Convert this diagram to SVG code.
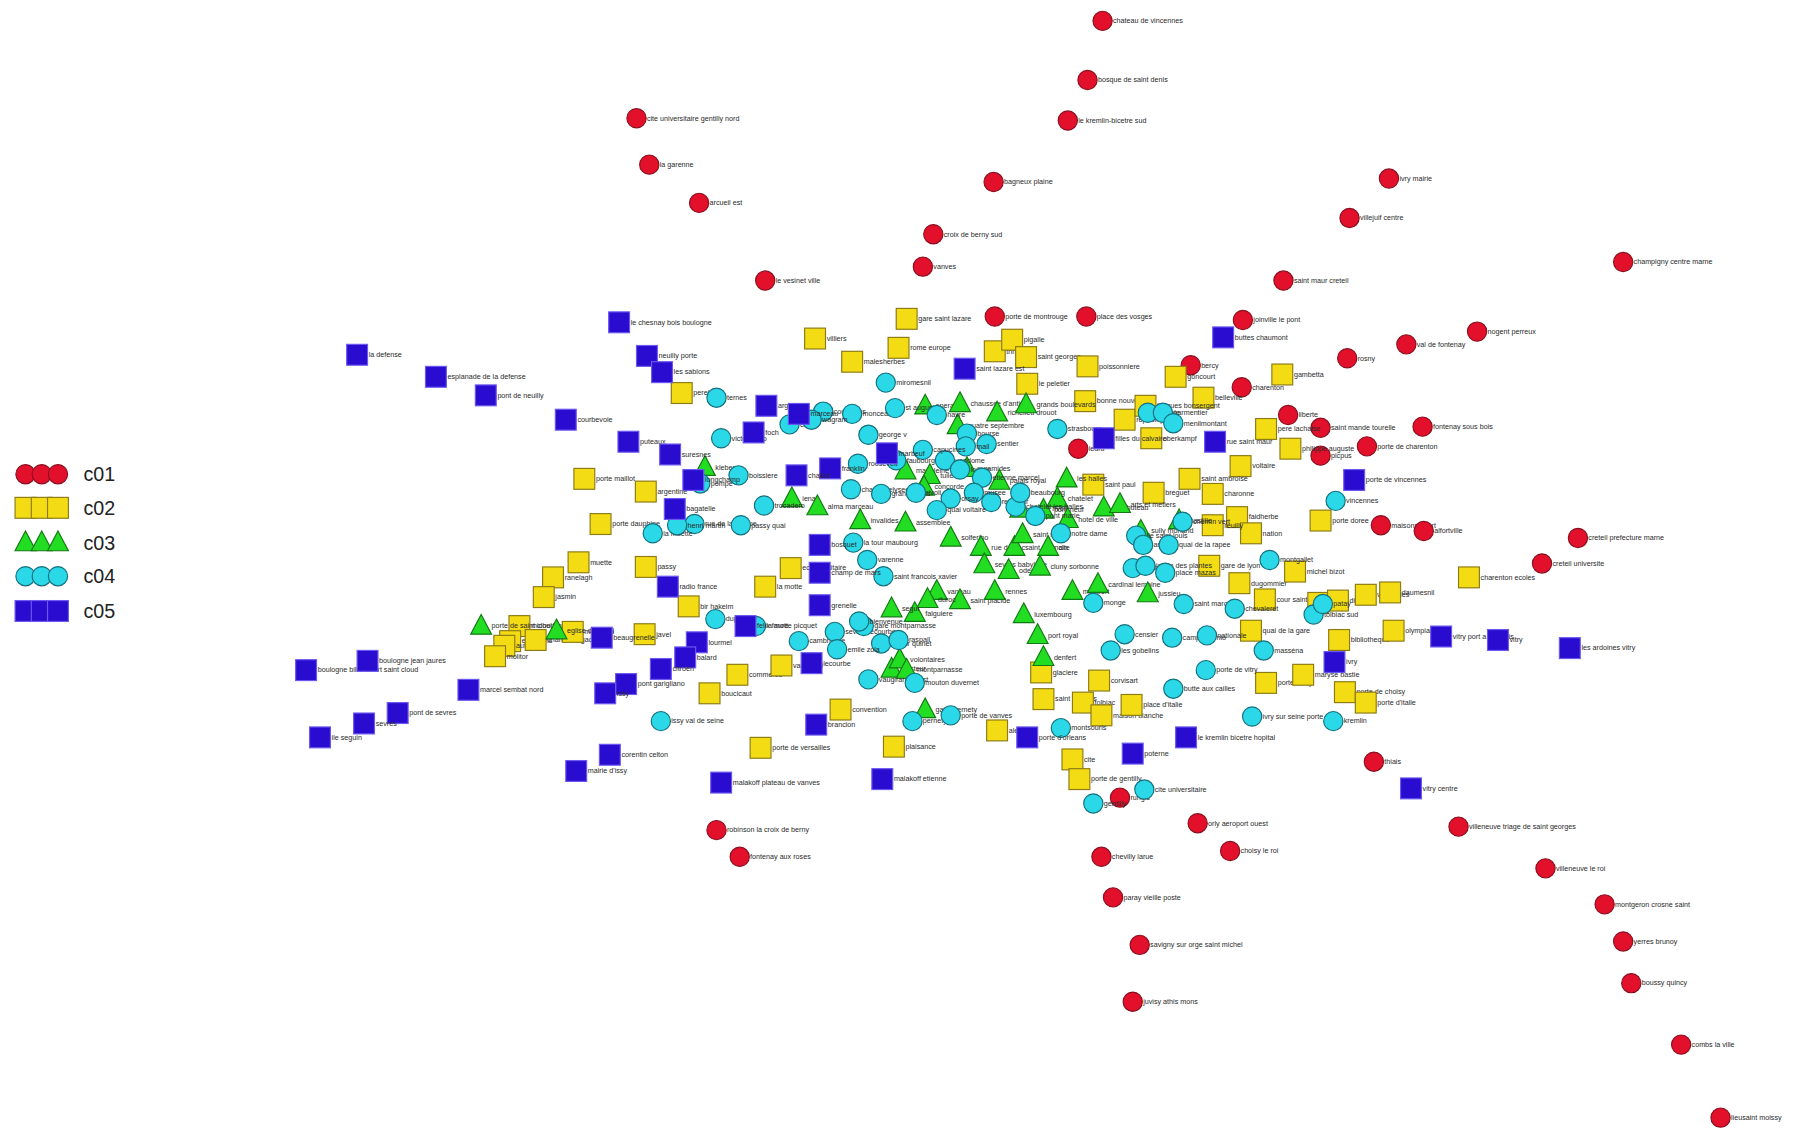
<svg xmlns="http://www.w3.org/2000/svg" xmlns:xlink="http://www.w3.org/1999/xlink" width="1818" height="1131" viewBox="0 0 1818 1131">
<style>
text{font-family:"Liberation Sans",Arial,sans-serif;font-size:6.2px;fill:#2a2a2a}
.lg{font-size:17px;fill:#222}
</style>
<defs>
<circle id="s1" r="8.3" fill="#e3102c" stroke="#8a1020" stroke-width="1"/>
<rect id="s2" x="-9" y="-9" width="18" height="18" fill="#f4dc14" stroke="#8c7a14" stroke-width="1"/>
<polygon id="s3" points="0,-10 9,7 -9,7" fill="#22dd22" stroke="#127a12" stroke-width="1"/>
<circle id="s4" r="8.3" fill="#2ad8e8" stroke="#14707e" stroke-width="1"/>
<rect id="s5" x="-9" y="-9" width="18" height="18" fill="#2a0cd0" stroke="#6a58f0" stroke-width="1"/>
</defs>
<rect width="1818" height="1131" fill="#ffffff"/>
<g transform="scale(1.1594)">
<g id="connectors"/>
<g id="legend">
<g id="leg1" transform="translate(0,409)"><use xlink:href="#s1" x="22"/><use xlink:href="#s1" x="36"/><use xlink:href="#s1" x="50"/><text class="lg" x="72" y="6">c01</text></g>
<g id="leg2" transform="translate(0,438)"><use xlink:href="#s2" x="22"/><use xlink:href="#s2" x="36"/><use xlink:href="#s2" x="50"/><text class="lg" x="72" y="6">c02</text></g>
<g id="leg3" transform="translate(0,468)"><use xlink:href="#s3" x="22"/><use xlink:href="#s3" x="36"/><use xlink:href="#s3" x="50"/><text class="lg" x="72" y="6">c03</text></g>
<g id="leg4" transform="translate(0,497)"><use xlink:href="#s4" x="22"/><use xlink:href="#s4" x="36"/><use xlink:href="#s4" x="50"/><text class="lg" x="72" y="6">c04</text></g>
<g id="leg5" transform="translate(0,527)"><use xlink:href="#s5" x="22"/><use xlink:href="#s5" x="36"/><use xlink:href="#s5" x="50"/><text class="lg" x="72" y="6">c05</text></g>
</g>
<g id="nodes-c01">
<g id="r1" transform="translate(951,18)"><use xlink:href="#s1"/><text x="9" y="2">chateau de vincennes</text></g>
<g id="r2" transform="translate(938,69)"><use xlink:href="#s1"/><text x="9" y="2">bosque de saint denis</text></g>
<g id="r3" transform="translate(921,104)"><use xlink:href="#s1"/><text x="9" y="2">le kremlin-bicetre sud</text></g>
<g id="r4" transform="translate(549,102)"><use xlink:href="#s1"/><text x="9" y="2">cite universitaire gentilly nord</text></g>
<g id="r5" transform="translate(560,142)"><use xlink:href="#s1"/><text x="9" y="2">la garenne</text></g>
<g id="r6" transform="translate(603,175)"><use xlink:href="#s1"/><text x="9" y="2">arcueil est</text></g>
<g id="r7" transform="translate(857,157)"><use xlink:href="#s1"/><text x="9" y="2">bagneux plaine</text></g>
<g id="r8" transform="translate(805,202)"><use xlink:href="#s1"/><text x="9" y="2">croix de berny sud</text></g>
<g id="r9" transform="translate(796,230)"><use xlink:href="#s1"/><text x="9" y="2">vanves</text></g>
<g id="r10" transform="translate(660,242)"><use xlink:href="#s1"/><text x="9" y="2">le vesinet ville</text></g>
<g id="r11" transform="translate(1198,154)"><use xlink:href="#s1"/><text x="9" y="2">ivry mairie</text></g>
<g id="r12" transform="translate(1164,188)"><use xlink:href="#s1"/><text x="9" y="2">villejuif centre</text></g>
<g id="r13" transform="translate(1400,226)"><use xlink:href="#s1"/><text x="9" y="2">champigny centre marne</text></g>
<g id="r14" transform="translate(1107,242)"><use xlink:href="#s1"/><text x="9" y="2">saint maur creteil</text></g>
<g id="r15" transform="translate(858,273)"><use xlink:href="#s1"/><text x="9" y="2">porte de montrouge</text></g>
<g id="r16" transform="translate(937,273)"><use xlink:href="#s1"/><text x="9" y="2">place des vosges</text></g>
<g id="r17" transform="translate(1072,276)"><use xlink:href="#s1"/><text x="9" y="2">joinville le pont</text></g>
<g id="r18" transform="translate(1274,286)"><use xlink:href="#s1"/><text x="9" y="2">nogent perreux</text></g>
<g id="r19" transform="translate(1213,297)"><use xlink:href="#s1"/><text x="9" y="2">val de fontenay</text></g>
<g id="r20" transform="translate(1162,309)"><use xlink:href="#s1"/><text x="9" y="2">rosny</text></g>
<g id="r21" transform="translate(1027,315)"><use xlink:href="#s1"/><text x="9" y="2">bercy</text></g>
<g id="r22" transform="translate(1071,334)"><use xlink:href="#s1"/><text x="9" y="2">charenton</text></g>
<g id="r23" transform="translate(1111,358)"><use xlink:href="#s1"/><text x="9" y="2">liberte</text></g>
<g id="r24" transform="translate(1139,369)"><use xlink:href="#s1"/><text x="9" y="2">saint mande tourelle</text></g>
<g id="r25" transform="translate(1227,368)"><use xlink:href="#s1"/><text x="9" y="2">fontenay sous bois</text></g>
<g id="r26" transform="translate(1179,385)"><use xlink:href="#s1"/><text x="9" y="2">porte de charenton</text></g>
<g id="r27" transform="translate(1139,393)"><use xlink:href="#s1"/><text x="9" y="2">picpus</text></g>
<g id="r28" transform="translate(930,387)"><use xlink:href="#s1"/><text x="9" y="2">ledru</text></g>
<g id="r29" transform="translate(1191,453)"><use xlink:href="#s1"/><text x="9" y="2">maisons alfort</text></g>
<g id="r30" transform="translate(1228,458)"><use xlink:href="#s1"/><text x="9" y="2">alfortville</text></g>
<g id="r31" transform="translate(1361,464)"><use xlink:href="#s1"/><text x="9" y="2">creteil prefecture marne</text></g>
<g id="r32" transform="translate(1330,486)"><use xlink:href="#s1"/><text x="9" y="2">creteil universite</text></g>
<g id="r33" transform="translate(1185,657)"><use xlink:href="#s1"/><text x="9" y="2">thiais</text></g>
<g id="r34" transform="translate(1258,713)"><use xlink:href="#s1"/><text x="9" y="2">villeneuve triage de saint georges</text></g>
<g id="r35" transform="translate(966,688)"><use xlink:href="#s1"/><text x="9" y="2">rungis</text></g>
<g id="r36" transform="translate(1033,710)"><use xlink:href="#s1"/><text x="9" y="2">orly aeroport ouest</text></g>
<g id="r37" transform="translate(1061,734)"><use xlink:href="#s1"/><text x="9" y="2">choisy le roi</text></g>
<g id="r38" transform="translate(950,739)"><use xlink:href="#s1"/><text x="9" y="2">chevilly larue</text></g>
<g id="r39" transform="translate(618,716)"><use xlink:href="#s1"/><text x="9" y="2">robinson la croix de berny</text></g>
<g id="r40" transform="translate(638,739)"><use xlink:href="#s1"/><text x="9" y="2">fontenay aux roses</text></g>
<g id="r41" transform="translate(960,774)"><use xlink:href="#s1"/><text x="9" y="2">paray vieille poste</text></g>
<g id="r42" transform="translate(983,815)"><use xlink:href="#s1"/><text x="9" y="2">savigny sur orge saint michel</text></g>
<g id="r43" transform="translate(977,864)"><use xlink:href="#s1"/><text x="9" y="2">juvisy athis mons</text></g>
<g id="r44" transform="translate(1333,749)"><use xlink:href="#s1"/><text x="9" y="2">villeneuve le roi</text></g>
<g id="r45" transform="translate(1384,780)"><use xlink:href="#s1"/><text x="9" y="2">montgeron crosne saint</text></g>
<g id="r46" transform="translate(1400,812)"><use xlink:href="#s1"/><text x="9" y="2">yerres brunoy</text></g>
<g id="r47" transform="translate(1407,848)"><use xlink:href="#s1"/><text x="9" y="2">boussy quincy</text></g>
<g id="r48" transform="translate(1450,901)"><use xlink:href="#s1"/><text x="9" y="2">combs la ville</text></g>
<g id="r49" transform="translate(1484,964)"><use xlink:href="#s1"/><text x="9" y="2">lieusaint moissy</text></g>
</g>
<g id="nodes-c02">
<g id="y1" transform="translate(782,275)"><use xlink:href="#s2"/><text x="10" y="2">gare saint lazare</text></g>
<g id="y2" transform="translate(703,292)"><use xlink:href="#s2"/><text x="10" y="2">villiers</text></g>
<g id="y3" transform="translate(775,300)"><use xlink:href="#s2"/><text x="10" y="2">rome europe</text></g>
<g id="y4" transform="translate(735,312)"><use xlink:href="#s2"/><text x="10" y="2">malesherbes</text></g>
<g id="y5" transform="translate(858,303)"><use xlink:href="#s2"/><text x="10" y="2">trinite</text></g>
<g id="y6" transform="translate(873,293)"><use xlink:href="#s2"/><text x="10" y="2">pigalle</text></g>
<g id="y7" transform="translate(885,308)"><use xlink:href="#s2"/><text x="10" y="2">saint georges</text></g>
<g id="y8" transform="translate(938,316)"><use xlink:href="#s2"/><text x="10" y="2">poissonniere</text></g>
<g id="y9" transform="translate(886,331)"><use xlink:href="#s2"/><text x="10" y="2">le peletier</text></g>
<g id="y10" transform="translate(1014,325)"><use xlink:href="#s2"/><text x="10" y="2">goncourt</text></g>
<g id="y11" transform="translate(1038,343)"><use xlink:href="#s2"/><text x="10" y="2">belleville</text></g>
<g id="y12" transform="translate(1106,323)"><use xlink:href="#s2"/><text x="10" y="2">gambetta</text></g>
<g id="y13" transform="translate(588,339)"><use xlink:href="#s2"/><text x="10" y="2">pereire</text></g>
<g id="y14" transform="translate(936,346)"><use xlink:href="#s2"/><text x="10" y="2">bonne nouvelle</text></g>
<g id="y15" transform="translate(970,362)"><use xlink:href="#s2"/><text x="10" y="2">republique</text></g>
<g id="y16" transform="translate(988,350)"><use xlink:href="#s2"/><text x="10" y="2">jacques bonsergent</text></g>
<g id="y17" transform="translate(1092,370)"><use xlink:href="#s2"/><text x="10" y="2">pere lachaise</text></g>
<g id="y18" transform="translate(1113,387)"><use xlink:href="#s2"/><text x="10" y="2">philippe auguste</text></g>
<g id="y19" transform="translate(1070,402)"><use xlink:href="#s2"/><text x="10" y="2">voltaire</text></g>
<g id="y20" transform="translate(993,378)"><use xlink:href="#s2"/><text x="10" y="2">oberkampf</text></g>
<g id="y21" transform="translate(1026,413)"><use xlink:href="#s2"/><text x="10" y="2">saint ambroise</text></g>
<g id="y22" transform="translate(1046,426)"><use xlink:href="#s2"/><text x="10" y="2">charonne</text></g>
<g id="y23" transform="translate(995,425)"><use xlink:href="#s2"/><text x="10" y="2">breguet</text></g>
<g id="y24" transform="translate(943,418)"><use xlink:href="#s2"/><text x="10" y="2">saint paul</text></g>
<g id="y25" transform="translate(504,413)"><use xlink:href="#s2"/><text x="10" y="2">porte maillot</text></g>
<g id="y26" transform="translate(557,424)"><use xlink:href="#s2"/><text x="10" y="2">argentine</text></g>
<g id="y27" transform="translate(518,452)"><use xlink:href="#s2"/><text x="10" y="2">porte dauphine</text></g>
<g id="y28" transform="translate(1067,446)"><use xlink:href="#s2"/><text x="10" y="2">faidherbe</text></g>
<g id="y29" transform="translate(1079,460)"><use xlink:href="#s2"/><text x="10" y="2">nation</text></g>
<g id="y30" transform="translate(1046,453)"><use xlink:href="#s2"/><text x="10" y="2">reuilly</text></g>
<g id="y31" transform="translate(1139,449)"><use xlink:href="#s2"/><text x="10" y="2">porte doree</text></g>
<g id="y32" transform="translate(1043,488)"><use xlink:href="#s2"/><text x="10" y="2">gare de lyon</text></g>
<g id="y33" transform="translate(1069,503)"><use xlink:href="#s2"/><text x="10" y="2">dugommier</text></g>
<g id="y34" transform="translate(1117,493)"><use xlink:href="#s2"/><text x="10" y="2">michel bizot</text></g>
<g id="y35" transform="translate(1091,517)"><use xlink:href="#s2"/><text x="10" y="2">cour saint emilion</text></g>
<g id="y36" transform="translate(1137,520)"><use xlink:href="#s2"/><text x="10" y="2">bercy</text></g>
<g id="y37" transform="translate(1154,518)"><use xlink:href="#s2"/><text x="10" y="2">dijon</text></g>
<g id="y38" transform="translate(1178,513)"><use xlink:href="#s2"/><text x="10" y="2">wattignies</text></g>
<g id="y39" transform="translate(1199,511)"><use xlink:href="#s2"/><text x="10" y="2">daumesnil</text></g>
<g id="y40" transform="translate(1267,498)"><use xlink:href="#s2"/><text x="10" y="2">charenton ecoles</text></g>
<g id="y41" transform="translate(499,485)"><use xlink:href="#s2"/><text x="10" y="2">muette</text></g>
<g id="y42" transform="translate(477,498)"><use xlink:href="#s2"/><text x="10" y="2">ranelagh</text></g>
<g id="y43" transform="translate(469,515)"><use xlink:href="#s2"/><text x="10" y="2">jasmin</text></g>
<g id="y44" transform="translate(557,489)"><use xlink:href="#s2"/><text x="10" y="2">passy</text></g>
<g id="y45" transform="translate(594,523)"><use xlink:href="#s2"/><text x="10" y="2">bir hakeim</text></g>
<g id="y46" transform="translate(682,490)"><use xlink:href="#s2"/><text x="10" y="2">ecole militaire</text></g>
<g id="y47" transform="translate(660,506)"><use xlink:href="#s2"/><text x="10" y="2">la motte</text></g>
<g id="y48" transform="translate(556,547)"><use xlink:href="#s2"/><text x="10" y="2">javel</text></g>
<g id="y49" transform="translate(448,540)"><use xlink:href="#s2"/><text x="10" y="2">michel ange</text></g>
<g id="y50" transform="translate(440,553)"><use xlink:href="#s2"/><text x="10" y="2">exelmans</text></g>
<g id="y51" transform="translate(435,557)"><use xlink:href="#s2"/><text x="10" y="2">auteuil</text></g>
<g id="y52" transform="translate(427,566)"><use xlink:href="#s2"/><text x="10" y="2">molitor</text></g>
<g id="y53" transform="translate(462,552)"><use xlink:href="#s2"/><text x="10" y="2">chardon lagache</text></g>
<g id="y54" transform="translate(494,545)"><use xlink:href="#s2"/><text x="10" y="2">mirabeau</text></g>
<g id="y55" transform="translate(1079,544)"><use xlink:href="#s2"/><text x="10" y="2">quai de la gare</text></g>
<g id="y56" transform="translate(1155,552)"><use xlink:href="#s2"/><text x="10" y="2">bibliotheque</text></g>
<g id="y57" transform="translate(1202,544)"><use xlink:href="#s2"/><text x="10" y="2">olympiades</text></g>
<g id="y58" transform="translate(636,582)"><use xlink:href="#s2"/><text x="10" y="2">commerce</text></g>
<g id="y59" transform="translate(612,598)"><use xlink:href="#s2"/><text x="10" y="2">boucicaut</text></g>
<g id="y60" transform="translate(674,574)"><use xlink:href="#s2"/><text x="10" y="2">vaugirard</text></g>
<g id="y61" transform="translate(725,612)"><use xlink:href="#s2"/><text x="10" y="2">convention</text></g>
<g id="y62" transform="translate(656,645)"><use xlink:href="#s2"/><text x="10" y="2">porte de versailles</text></g>
<g id="y63" transform="translate(771,644)"><use xlink:href="#s2"/><text x="10" y="2">plaisance</text></g>
<g id="y64" transform="translate(898,580)"><use xlink:href="#s2"/><text x="10" y="2">glaciere</text></g>
<g id="y65" transform="translate(948,587)"><use xlink:href="#s2"/><text x="10" y="2">corvisart</text></g>
<g id="y66" transform="translate(900,603)"><use xlink:href="#s2"/><text x="10" y="2">saint jacques</text></g>
<g id="y67" transform="translate(934,606)"><use xlink:href="#s2"/><text x="10" y="2">tolbiac</text></g>
<g id="y68" transform="translate(950,617)"><use xlink:href="#s2"/><text x="10" y="2">maison blanche</text></g>
<g id="y69" transform="translate(976,608)"><use xlink:href="#s2"/><text x="10" y="2">place d'italie</text></g>
<g id="y70" transform="translate(860,630)"><use xlink:href="#s2"/><text x="10" y="2">alesia</text></g>
<g id="y71" transform="translate(1092,589)"><use xlink:href="#s2"/><text x="10" y="2">porte d'ivry</text></g>
<g id="y72" transform="translate(1124,582)"><use xlink:href="#s2"/><text x="10" y="2">maryse bastie</text></g>
<g id="y73" transform="translate(1160,597)"><use xlink:href="#s2"/><text x="10" y="2">porte de choisy</text></g>
<g id="y74" transform="translate(1178,606)"><use xlink:href="#s2"/><text x="10" y="2">porte d'italie</text></g>
<g id="y75" transform="translate(925,655)"><use xlink:href="#s2"/><text x="10" y="2">cite</text></g>
<g id="y76" transform="translate(931,672)"><use xlink:href="#s2"/><text x="10" y="2">porte de gentilly</text></g>
</g>
<g id="nodes-c03">
<g id="g1" transform="translate(798,350)"><use xlink:href="#s3"/><text x="9" y="2">opera</text></g>
<g id="g2" transform="translate(828,348)"><use xlink:href="#s3"/><text x="9" y="2">chaussee d'antin</text></g>
<g id="g3" transform="translate(860,356)"><use xlink:href="#s3"/><text x="9" y="2">richelieu drouot</text></g>
<g id="g4" transform="translate(885,349)"><use xlink:href="#s3"/><text x="9" y="2">grands boulevards</text></g>
<g id="g5" transform="translate(826,367)"><use xlink:href="#s3"/><text x="9" y="2">quatre septembre</text></g>
<g id="g6" transform="translate(608,403)"><use xlink:href="#s3"/><text x="9" y="2">kleber</text></g>
<g id="g7" transform="translate(683,430)"><use xlink:href="#s3"/><text x="9" y="2">iena</text></g>
<g id="g8" transform="translate(705,437)"><use xlink:href="#s3"/><text x="9" y="2">alma marceau</text></g>
<g id="g9" transform="translate(781,406)"><use xlink:href="#s3"/><text x="9" y="2">madeleine</text></g>
<g id="g10" transform="translate(802,410)"><use xlink:href="#s3"/><text x="9" y="2">tuileries</text></g>
<g id="g11" transform="translate(834,404)"><use xlink:href="#s3"/><text x="9" y="2">pyramides</text></g>
<g id="g12" transform="translate(742,449)"><use xlink:href="#s3"/><text x="9" y="2">invalides</text></g>
<g id="g13" transform="translate(781,451)"><use xlink:href="#s3"/><text x="9" y="2">assemblee</text></g>
<g id="g14" transform="translate(797,420)"><use xlink:href="#s3"/><text x="9" y="2">concorde</text></g>
<g id="g15" transform="translate(862,415)"><use xlink:href="#s3"/><text x="9" y="2">palais royal</text></g>
<g id="g16" transform="translate(880,439)"><use xlink:href="#s3"/><text x="9" y="2">louvre rivoli</text></g>
<g id="g17" transform="translate(900,440)"><use xlink:href="#s3"/><text x="9" y="2">pont neuf</text></g>
<g id="g18" transform="translate(920,413)"><use xlink:href="#s3"/><text x="9" y="2">les halles</text></g>
<g id="g19" transform="translate(912,430)"><use xlink:href="#s3"/><text x="9" y="2">chatelet</text></g>
<g id="g20" transform="translate(921,448)"><use xlink:href="#s3"/><text x="9" y="2">hotel de ville</text></g>
<g id="g21" transform="translate(952,438)"><use xlink:href="#s3"/><text x="9" y="2">rambuteau</text></g>
<g id="g22" transform="translate(966,435)"><use xlink:href="#s3"/><text x="9" y="2">arts et metiers</text></g>
<g id="g23" transform="translate(984,458)"><use xlink:href="#s3"/><text x="9" y="2">sully morland</text></g>
<g id="g24" transform="translate(1017,449)"><use xlink:href="#s3"/><text x="9" y="2">bastille</text></g>
<g id="g25" transform="translate(820,464)"><use xlink:href="#s3"/><text x="9" y="2">solferino</text></g>
<g id="g26" transform="translate(846,472)"><use xlink:href="#s3"/><text x="9" y="2">rue du bac</text></g>
<g id="g27" transform="translate(849,487)"><use xlink:href="#s3"/><text x="9" y="2">sevres babylone</text></g>
<g id="g28" transform="translate(875,472)"><use xlink:href="#s3"/><text x="9" y="2">saint germain</text></g>
<g id="g29" transform="translate(882,461)"><use xlink:href="#s3"/><text x="9" y="2">saint michel</text></g>
<g id="g30" transform="translate(904,472)"><use xlink:href="#s3"/><text x="9" y="2">cite</text></g>
<g id="g31" transform="translate(870,492)"><use xlink:href="#s3"/><text x="9" y="2">odeon</text></g>
<g id="g32" transform="translate(897,489)"><use xlink:href="#s3"/><text x="9" y="2">cluny sorbonne</text></g>
<g id="g33" transform="translate(808,510)"><use xlink:href="#s3"/><text x="9" y="2">vaneau</text></g>
<g id="g34" transform="translate(828,518)"><use xlink:href="#s3"/><text x="9" y="2">saint placide</text></g>
<g id="g35" transform="translate(800,517)"><use xlink:href="#s3"/><text x="9" y="2">duroc</text></g>
<g id="g36" transform="translate(789,529)"><use xlink:href="#s3"/><text x="9" y="2">falguiere</text></g>
<g id="g37" transform="translate(769,525)"><use xlink:href="#s3"/><text x="9" y="2">segur</text></g>
<g id="g38" transform="translate(858,510)"><use xlink:href="#s3"/><text x="9" y="2">rennes</text></g>
<g id="g39" transform="translate(883,530)"><use xlink:href="#s3"/><text x="9" y="2">luxembourg</text></g>
<g id="g40" transform="translate(925,510)"><use xlink:href="#s3"/><text x="9" y="2">maubert</text></g>
<g id="g41" transform="translate(947,504)"><use xlink:href="#s3"/><text x="9" y="2">cardinal lemoine</text></g>
<g id="g42" transform="translate(990,512)"><use xlink:href="#s3"/><text x="9" y="2">jussieu</text></g>
<g id="g43" transform="translate(895,548)"><use xlink:href="#s3"/><text x="9" y="2">port royal</text></g>
<g id="g44" transform="translate(900,567)"><use xlink:href="#s3"/><text x="9" y="2">denfert</text></g>
<g id="g45" transform="translate(769,577)"><use xlink:href="#s3"/><text x="9" y="2">pasteur</text></g>
<g id="g46" transform="translate(776,569)"><use xlink:href="#s3"/><text x="9" y="2">volontaires</text></g>
<g id="g47" transform="translate(782,578)"><use xlink:href="#s3"/><text x="9" y="2">montparnasse</text></g>
<g id="g48" transform="translate(798,612)"><use xlink:href="#s3"/><text x="9" y="2">gaite pernety</text></g>
<g id="g49" transform="translate(415,540)"><use xlink:href="#s3"/><text x="9" y="2">porte de saint cloud</text></g>
<g id="g50" transform="translate(480,544)"><use xlink:href="#s3"/><text x="9" y="2">eglise d'auteuil</text></g>
</g>
<g id="nodes-c04">
<g id="c1" transform="translate(764,330)"><use xlink:href="#s4"/><text x="9" y="2">miromesnil</text></g>
<g id="c2" transform="translate(618,343)"><use xlink:href="#s4"/><text x="9" y="2">ternes</text></g>
<g id="c3" transform="translate(710,355)"><use xlink:href="#s4"/><text x="9" y="2">courcelles</text></g>
<g id="c4" transform="translate(735,357)"><use xlink:href="#s4"/><text x="9" y="2">monceau</text></g>
<g id="c5" transform="translate(772,352)"><use xlink:href="#s4"/><text x="9" y="2">st augustin</text></g>
<g id="c6" transform="translate(808,358)"><use xlink:href="#s4"/><text x="9" y="2">havre</text></g>
<g id="c7" transform="translate(681,366)"><use xlink:href="#s4"/><text x="9" y="2">etoile</text></g>
<g id="c8" transform="translate(700,362)"><use xlink:href="#s4"/><text x="9" y="2">wagram</text></g>
<g id="c9" transform="translate(749,375)"><use xlink:href="#s4"/><text x="9" y="2">george v</text></g>
<g id="c10" transform="translate(834,374)"><use xlink:href="#s4"/><text x="9" y="2">bourse</text></g>
<g id="c11" transform="translate(851,383)"><use xlink:href="#s4"/><text x="9" y="2">sentier</text></g>
<g id="c12" transform="translate(833,385)"><use xlink:href="#s4"/><text x="9" y="2">mail</text></g>
<g id="c13" transform="translate(815,397)"><use xlink:href="#s4"/><text x="9" y="2">vendome</text></g>
<g id="c14" transform="translate(796,388)"><use xlink:href="#s4"/><text x="9" y="2">capucines</text></g>
<g id="c15" transform="translate(773,397)"><use xlink:href="#s4"/><text x="9" y="2">faubourg</text></g>
<g id="c16" transform="translate(740,400)"><use xlink:href="#s4"/><text x="9" y="2">roosevelt</text></g>
<g id="c17" transform="translate(912,370)"><use xlink:href="#s4"/><text x="9" y="2">strasbourg</text></g>
<g id="c18" transform="translate(990,356)"><use xlink:href="#s4"/><text x="9" y="2">temple</text></g>
<g id="c19" transform="translate(1003,356)"><use xlink:href="#s4"/><text x="9" y="2">parmentier</text></g>
<g id="c20" transform="translate(1012,365)"><use xlink:href="#s4"/><text x="9" y="2">menilmontant</text></g>
<g id="c21" transform="translate(622,378)"><use xlink:href="#s4"/><text x="9" y="2">victor hugo</text></g>
<g id="c22" transform="translate(637,410)"><use xlink:href="#s4"/><text x="9" y="2">boissiere</text></g>
<g id="c23" transform="translate(604,417)"><use xlink:href="#s4"/><text x="9" y="2">pompe</text></g>
<g id="c24" transform="translate(659,436)"><use xlink:href="#s4"/><text x="9" y="2">trocadero</text></g>
<g id="c25" transform="translate(599,452)"><use xlink:href="#s4"/><text x="9" y="2">rue de la pompe</text></g>
<g id="c26" transform="translate(563,460)"><use xlink:href="#s4"/><text x="9" y="2">la muette</text></g>
<g id="c27" transform="translate(584,453)"><use xlink:href="#s4"/><text x="9" y="2">henri martin</text></g>
<g id="c28" transform="translate(639,453)"><use xlink:href="#s4"/><text x="9" y="2">passy quai</text></g>
<g id="c29" transform="translate(734,422)"><use xlink:href="#s4"/><text x="9" y="2">champs elysees</text></g>
<g id="c30" transform="translate(760,426)"><use xlink:href="#s4"/><text x="9" y="2">grand palais</text></g>
<g id="c31" transform="translate(790,425)"><use xlink:href="#s4"/><text x="9" y="2">rivoli</text></g>
<g id="c32" transform="translate(828,405)"><use xlink:href="#s4"/><text x="9" y="2">louvre</text></g>
<g id="c33" transform="translate(847,412)"><use xlink:href="#s4"/><text x="9" y="2">etienne marcel</text></g>
<g id="c34" transform="translate(855,433)"><use xlink:href="#s4"/><text x="9" y="2">reaumur</text></g>
<g id="c35" transform="translate(876,437)"><use xlink:href="#s4"/><text x="9" y="2">chatelet les halles</text></g>
<g id="c36" transform="translate(840,425)"><use xlink:href="#s4"/><text x="9" y="2">musee</text></g>
<g id="c37" transform="translate(820,430)"><use xlink:href="#s4"/><text x="9" y="2">orsay</text></g>
<g id="c38" transform="translate(808,440)"><use xlink:href="#s4"/><text x="9" y="2">quai voltaire</text></g>
<g id="c39" transform="translate(893,445)"><use xlink:href="#s4"/><text x="9" y="2">pont marie</text></g>
<g id="c40" transform="translate(915,460)"><use xlink:href="#s4"/><text x="9" y="2">notre dame</text></g>
<g id="c41" transform="translate(880,425)"><use xlink:href="#s4"/><text x="9" y="2">beaubourg</text></g>
<g id="c42" transform="translate(736,468)"><use xlink:href="#s4"/><text x="9" y="2">la tour maubourg</text></g>
<g id="c43" transform="translate(748,483)"><use xlink:href="#s4"/><text x="9" y="2">varenne</text></g>
<g id="c44" transform="translate(762,497)"><use xlink:href="#s4"/><text x="9" y="2">saint francois xavier</text></g>
<g id="c45" transform="translate(980,462)"><use xlink:href="#s4"/><text x="9" y="2">ile saint louis</text></g>
<g id="c46" transform="translate(986,470)"><use xlink:href="#s4"/><text x="9" y="2">arsenal</text></g>
<g id="c47" transform="translate(1008,470)"><use xlink:href="#s4"/><text x="9" y="2">quai de la rapee</text></g>
<g id="c48" transform="translate(1020,450)"><use xlink:href="#s4"/><text x="9" y="2">chemin vert</text></g>
<g id="c49" transform="translate(977,490)"><use xlink:href="#s4"/><text x="9" y="2">austerlitz</text></g>
<g id="c50" transform="translate(988,488)"><use xlink:href="#s4"/><text x="9" y="2">jardin des plantes</text></g>
<g id="c51" transform="translate(1005,494)"><use xlink:href="#s4"/><text x="9" y="2">place mazas</text></g>
<g id="c52" transform="translate(1095,483)"><use xlink:href="#s4"/><text x="9" y="2">montgallet</text></g>
<g id="c53" transform="translate(1021,521)"><use xlink:href="#s4"/><text x="9" y="2">saint marcel</text></g>
<g id="c54" transform="translate(1065,525)"><use xlink:href="#s4"/><text x="9" y="2">chevaleret</text></g>
<g id="c55" transform="translate(1133,530)"><use xlink:href="#s4"/><text x="9" y="2">tolbiac sud</text></g>
<g id="c56" transform="translate(1141,521)"><use xlink:href="#s4"/><text x="9" y="2">patay</text></g>
<g id="c57" transform="translate(1152,432)"><use xlink:href="#s4"/><text x="9" y="2">vincennes</text></g>
<g id="c58" transform="translate(943,520)"><use xlink:href="#s4"/><text x="9" y="2">monge</text></g>
<g id="c59" transform="translate(970,547)"><use xlink:href="#s4"/><text x="9" y="2">censier</text></g>
<g id="c60" transform="translate(958,561)"><use xlink:href="#s4"/><text x="9" y="2">les gobelins</text></g>
<g id="c61" transform="translate(1011,550)"><use xlink:href="#s4"/><text x="9" y="2">campo formio</text></g>
<g id="c62" transform="translate(1041,548)"><use xlink:href="#s4"/><text x="9" y="2">nationale</text></g>
<g id="c63" transform="translate(1090,561)"><use xlink:href="#s4"/><text x="9" y="2">masséna</text></g>
<g id="c64" transform="translate(1040,578)"><use xlink:href="#s4"/><text x="9" y="2">porte de vitry</text></g>
<g id="c65" transform="translate(1012,594)"><use xlink:href="#s4"/><text x="9" y="2">butte aux cailles</text></g>
<g id="c66" transform="translate(689,553)"><use xlink:href="#s4"/><text x="9" y="2">cambronne</text></g>
<g id="c67" transform="translate(720,545)"><use xlink:href="#s4"/><text x="9" y="2">sevres lecourbe</text></g>
<g id="c68" transform="translate(745,540)"><use xlink:href="#s4"/><text x="9" y="2">gare montparnasse</text></g>
<g id="c69" transform="translate(760,555)"><use xlink:href="#s4"/><text x="9" y="2">edgar quinet</text></g>
<g id="c70" transform="translate(775,552)"><use xlink:href="#s4"/><text x="9" y="2">raspail</text></g>
<g id="c71" transform="translate(722,560)"><use xlink:href="#s4"/><text x="9" y="2">emile zola</text></g>
<g id="c72" transform="translate(749,586)"><use xlink:href="#s4"/><text x="9" y="2">vaugirard ouest</text></g>
<g id="c73" transform="translate(789,589)"><use xlink:href="#s4"/><text x="9" y="2">mouton duvernet</text></g>
<g id="c74" transform="translate(787,622)"><use xlink:href="#s4"/><text x="9" y="2">pernety</text></g>
<g id="c75" transform="translate(820,617)"><use xlink:href="#s4"/><text x="9" y="2">porte de vanves</text></g>
<g id="c76" transform="translate(570,622)"><use xlink:href="#s4"/><text x="9" y="2">issy val de seine</text></g>
<g id="c77" transform="translate(915,628)"><use xlink:href="#s4"/><text x="9" y="2">montsouris</text></g>
<g id="c78" transform="translate(1080,618)"><use xlink:href="#s4"/><text x="9" y="2">ivry sur seine porte</text></g>
<g id="c79" transform="translate(1150,622)"><use xlink:href="#s4"/><text x="9" y="2">kremlin</text></g>
<g id="c80" transform="translate(943,693)"><use xlink:href="#s4"/><text x="9" y="2">gentilly</text></g>
<g id="c81" transform="translate(987,681)"><use xlink:href="#s4"/><text x="9" y="2">cite universitaire</text></g>
<g id="c82" transform="translate(741,536)"><use xlink:href="#s4"/><text x="9" y="2">bienvenue</text></g>
<g id="c83" transform="translate(617,534)"><use xlink:href="#s4"/><text x="9" y="2">dupleix</text></g>
<g id="c84" transform="translate(652,540)"><use xlink:href="#s4"/><text x="9" y="2">la motte picquet</text></g>
</g>
<g id="nodes-c05">
<g id="b1" transform="translate(534,278)"><use xlink:href="#s5"/><text x="10" y="2">le chesnay bois boulogne</text></g>
<g id="b2" transform="translate(308,306)"><use xlink:href="#s5"/><text x="10" y="2">la defense</text></g>
<g id="b3" transform="translate(558,307)"><use xlink:href="#s5"/><text x="10" y="2">neuilly porte</text></g>
<g id="b4" transform="translate(571,321)"><use xlink:href="#s5"/><text x="10" y="2">les sablons</text></g>
<g id="b5" transform="translate(376,325)"><use xlink:href="#s5"/><text x="10" y="2">esplanade de la defense</text></g>
<g id="b6" transform="translate(419,341)"><use xlink:href="#s5"/><text x="10" y="2">pont de neuilly</text></g>
<g id="b7" transform="translate(488,362)"><use xlink:href="#s5"/><text x="10" y="2">courbevoie</text></g>
<g id="b8" transform="translate(542,381)"><use xlink:href="#s5"/><text x="10" y="2">puteaux</text></g>
<g id="b9" transform="translate(578,392)"><use xlink:href="#s5"/><text x="10" y="2">suresnes</text></g>
<g id="b10" transform="translate(598,414)"><use xlink:href="#s5"/><text x="10" y="2">longchamp</text></g>
<g id="b11" transform="translate(582,439)"><use xlink:href="#s5"/><text x="10" y="2">bagatelle</text></g>
<g id="b12" transform="translate(661,350)"><use xlink:href="#s5"/><text x="10" y="2">argentine</text></g>
<g id="b13" transform="translate(689,357)"><use xlink:href="#s5"/><text x="10" y="2">marceau</text></g>
<g id="b14" transform="translate(650,373)"><use xlink:href="#s5"/><text x="10" y="2">foch</text></g>
<g id="b15" transform="translate(716,404)"><use xlink:href="#s5"/><text x="10" y="2">franklin</text></g>
<g id="b16" transform="translate(687,410)"><use xlink:href="#s5"/><text x="10" y="2">chaillot</text></g>
<g id="b17" transform="translate(765,391)"><use xlink:href="#s5"/><text x="10" y="2">marbeuf</text></g>
<g id="b18" transform="translate(832,318)"><use xlink:href="#s5"/><text x="10" y="2">saint lazare est</text></g>
<g id="b19" transform="translate(1055,291)"><use xlink:href="#s5"/><text x="10" y="2">buttes chaumont</text></g>
<g id="b20" transform="translate(1048,381)"><use xlink:href="#s5"/><text x="10" y="2">rue saint maur</text></g>
<g id="b21" transform="translate(952,378)"><use xlink:href="#s5"/><text x="10" y="2">filles du calvaire</text></g>
<g id="b22" transform="translate(1168,414)"><use xlink:href="#s5"/><text x="10" y="2">porte de vincennes</text></g>
<g id="b23" transform="translate(707,470)"><use xlink:href="#s5"/><text x="10" y="2">bosquet</text></g>
<g id="b24" transform="translate(707,494)"><use xlink:href="#s5"/><text x="10" y="2">champ de mars</text></g>
<g id="b25" transform="translate(707,522)"><use xlink:href="#s5"/><text x="10" y="2">grenelle</text></g>
<g id="b26" transform="translate(576,506)"><use xlink:href="#s5"/><text x="10" y="2">radio france</text></g>
<g id="b27" transform="translate(519,550)"><use xlink:href="#s5"/><text x="10" y="2">beaugrenelle</text></g>
<g id="b28" transform="translate(601,554)"><use xlink:href="#s5"/><text x="10" y="2">lourmel</text></g>
<g id="b29" transform="translate(591,567)"><use xlink:href="#s5"/><text x="10" y="2">balard</text></g>
<g id="b30" transform="translate(570,577)"><use xlink:href="#s5"/><text x="10" y="2">citroen</text></g>
<g id="b31" transform="translate(540,590)"><use xlink:href="#s5"/><text x="10" y="2">pont garigliano</text></g>
<g id="b32" transform="translate(522,598)"><use xlink:href="#s5"/><text x="10" y="2">issy</text></g>
<g id="b33" transform="translate(643,540)"><use xlink:href="#s5"/><text x="10" y="2">felix faure</text></g>
<g id="b34" transform="translate(700,572)"><use xlink:href="#s5"/><text x="10" y="2">lecourbe</text></g>
<g id="b35" transform="translate(264,578)"><use xlink:href="#s5"/><text x="10" y="2">boulogne billancourt saint cloud</text></g>
<g id="b36" transform="translate(317,570)"><use xlink:href="#s5"/><text x="10" y="2">boulogne jean jaures</text></g>
<g id="b37" transform="translate(404,595)"><use xlink:href="#s5"/><text x="10" y="2">marcel sembat nord</text></g>
<g id="b38" transform="translate(343,615)"><use xlink:href="#s5"/><text x="10" y="2">pont de sevres</text></g>
<g id="b39" transform="translate(314,624)"><use xlink:href="#s5"/><text x="10" y="2">sevres</text></g>
<g id="b40" transform="translate(276,636)"><use xlink:href="#s5"/><text x="10" y="2">ile seguin</text></g>
<g id="b41" transform="translate(526,651)"><use xlink:href="#s5"/><text x="10" y="2">corentin celton</text></g>
<g id="b42" transform="translate(497,665)"><use xlink:href="#s5"/><text x="10" y="2">mairie d'issy</text></g>
<g id="b43" transform="translate(622,675)"><use xlink:href="#s5"/><text x="10" y="2">malakoff plateau de vanves</text></g>
<g id="b44" transform="translate(704,625)"><use xlink:href="#s5"/><text x="10" y="2">brancion</text></g>
<g id="b45" transform="translate(761,672)"><use xlink:href="#s5"/><text x="10" y="2">malakoff etienne</text></g>
<g id="b46" transform="translate(886,636)"><use xlink:href="#s5"/><text x="10" y="2">porte d'orleans</text></g>
<g id="b47" transform="translate(977,650)"><use xlink:href="#s5"/><text x="10" y="2">poterne</text></g>
<g id="b48" transform="translate(1023,636)"><use xlink:href="#s5"/><text x="10" y="2">le kremlin bicetre hopital</text></g>
<g id="b49" transform="translate(1151,571)"><use xlink:href="#s5"/><text x="10" y="2">ivry</text></g>
<g id="b50" transform="translate(1243,549)"><use xlink:href="#s5"/><text x="10" y="2">vitry port a l'anglais</text></g>
<g id="b51" transform="translate(1292,552)"><use xlink:href="#s5"/><text x="10" y="2">vitry</text></g>
<g id="b52" transform="translate(1354,559)"><use xlink:href="#s5"/><text x="10" y="2">les ardoines vitry</text></g>
<g id="b53" transform="translate(1217,680)"><use xlink:href="#s5"/><text x="10" y="2">vitry centre</text></g>
</g>
</g>
</svg>
